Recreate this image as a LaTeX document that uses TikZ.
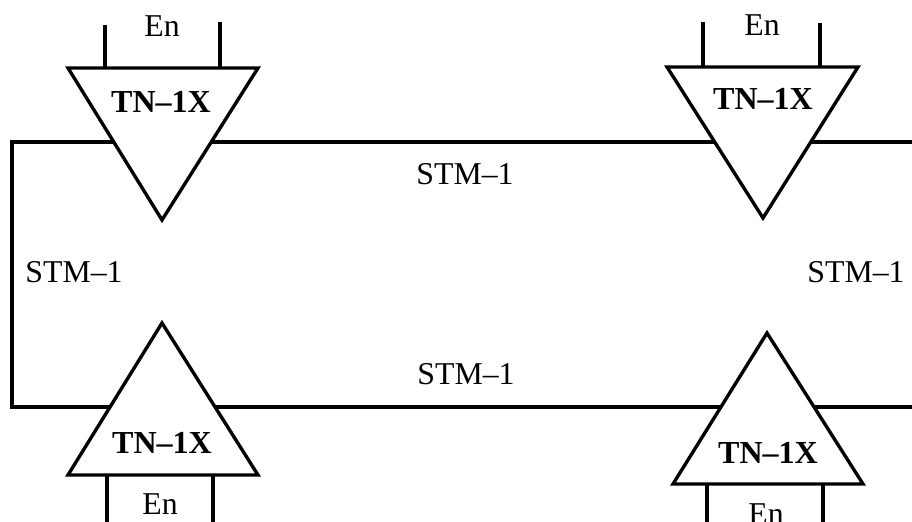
\documentclass[tikz,border=0pt]{standalone}
\usepackage{fontspec}
\setmainfont{Liberation Serif}
\usepackage{tikz}
\usetikzlibrary{calc,positioning}
\tikzset{
    wire/.style={line width=2.4pt},
    tnbox/.style={wire, fill=white, line join=miter},
    lbl/.style={inner sep=0pt, anchor=base, font=\fontsize{22.6}{25}\selectfont},
    tnlbl/.style={inner sep=0pt, anchor=base, font=\fontsize{22.8}{25}\selectfont\bfseries}
}

\begin{document}
\begin{tikzpicture}[x=0.25mm,y=0.25mm]
        \useasboundingbox (0,0) rectangle (912,522);
        % ring
        \coordinate (nw) at (12,380);
        \coordinate (ne) at (912,380);
        \coordinate (sw) at (12,115);
        \coordinate (se) at (912,115);
        \draw[wire] (ne) -- (nw) -- (sw) -- (se);
        % multiplexers
        \draw[tnbox] (68,454) coordinate (m1l) -- (258,454) coordinate (m1r) -- (162,302) coordinate (m1) -- cycle;
        \draw[tnbox] (667,455) coordinate (m2l) -- (858,455) coordinate (m2r) -- (763,304) coordinate (m2) -- cycle;
        \draw[tnbox] (68,47) coordinate (m3l) -- (258,47) coordinate (m3r) -- (162,199) coordinate (m3) -- cycle;
        \draw[tnbox] (673,38) coordinate (m4l) -- (863,38) coordinate (m4r) -- (767,189) coordinate (m4) -- cycle;
        % tributary stubs
        \coordinate (e1a) at (105,497);
        \coordinate (e1b) at (220,500);
        \coordinate (e2a) at (703,500);
        \coordinate (e2b) at (820,499);
        \coordinate (e3a) at (107,0);
        \coordinate (e3b) at (213,0);
        \coordinate (e4a) at (707,0);
        \coordinate (e4b) at (823,0);
        \draw[wire] (e1a) -- (e1a |- m1l);
        \draw[wire] (e1b) -- (e1b |- m1l);
        \draw[wire] (e2a) -- (e2a |- m2l);
        \draw[wire] (e2b) -- (e2b |- m2l);
        \draw[wire] (e3a) -- (e3a |- m3l);
        \draw[wire] (e3b) -- (e3b |- m3l);
        \draw[wire] (e4a) -- (e4a |- m4l);
        \draw[wire] (e4b) -- (e4b |- m4l);
        % labels
        \node[tnlbl] (tn1) at (161,409) {TN--1X};
        \node[tnlbl] (tn2) at (763,412) {TN--1X};
        \node[tnlbl] (tn3) at (162,68) {TN--1X};
        \node[tnlbl] (tn4) at (768,58) {TN--1X};
        \node[lbl] (en1) at (162,485) {En};
        \node[lbl] (en2) at (762,486) {En};
        \node[lbl] (en3) at (160,7) {En};
        \node[lbl] (en4) at (766,-3) {En};
        \node[lbl] (stm1) at (465,337) {STM--1};
        \node[lbl] (stm2) at (74,239) {STM--1};
        \node[lbl] (stm3) at (856,239) {STM--1};
        \node[lbl] (stm4) at (466,137) {STM--1};
    \end{tikzpicture}
\end{document}
